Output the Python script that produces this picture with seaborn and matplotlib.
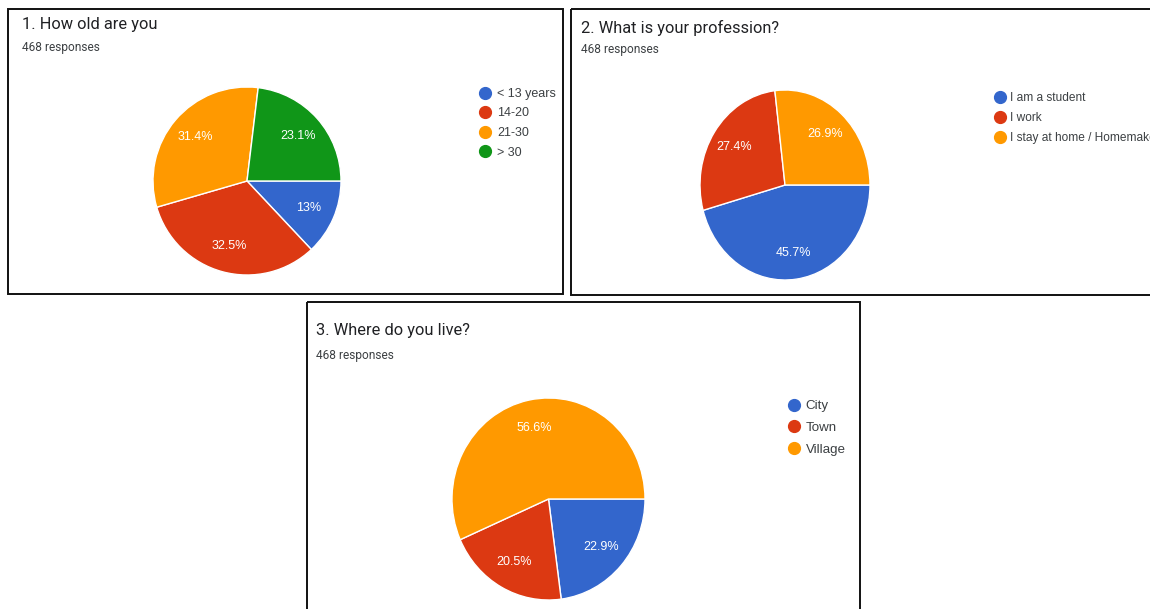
import matplotlib
matplotlib.use("Agg")
import matplotlib.pyplot as plt
from matplotlib.patches import Rectangle
from matplotlib.lines import Line2D
import seaborn as sns

sns.set_theme(style="white")
plt.rcParams["font.family"] = ["Liberation Sans", "DejaVu Sans"]

# Survey answers (percent of 468 responses)
age_labels = ["< 13 years", "14-20", "21-30", "> 30"]
age_values = [13.0, 32.5, 31.4, 23.1]

job_labels = ["I am a student", "I work", "I stay at home / Homemaker"]
job_values = [45.7, 27.4, 26.9]

home_labels = ["City", "Town", "Village"]
home_values = [22.9, 20.5, 56.6]

titles = ["1. How old are you", "2. What is your profession?", "3. Where do you live?"]
subtitle = "468 responses"

google = ["#3366CC", "#DC3912", "#FF9900", "#109618"]
sns.set_palette(google)

W, H = 1150, 609
fig = plt.figure(figsize=(W / 100, H / 100), dpi=100)
fig.patch.set_facecolor("white")

# full-figure canvas in pixel units for card frames and headings
bg = fig.add_axes([0, 0, 1, 1])
bg.set_xlim(0, W)
bg.set_ylim(H, 0)
bg.axis("off")

cards = [
    dict(box=(8, 9, 555, 285), title_xy=(22, 24), sub_xy=(22, 47),
         pie=(247, 181, 94, 94), legend_xy=(479, 88), legend_fs=9.0, spacing=0.6,
         pad=0.44, labels=age_labels, values=age_values),
    dict(box=(571, 9, 600, 286), title_xy=(581, 28), sub_xy=(581, 50),
         pie=(785, 185, 85, 95), legend_xy=(994, 92), legend_fs=8.6, spacing=0.66,
         pad=0.33, labels=job_labels, values=job_values),
    dict(box=(307, 302, 553, 330), title_xy=(316, 331), sub_xy=(316, 356),
         pie=(548.5, 499, 96.5, 101), legend_xy=(787, 400), legend_fs=9.6, spacing=0.7,
         pad=0.4, labels=home_labels, values=home_values),
]


def pct_text(p):
    s = f"{p:.1f}"
    return (s[:-2] if s.endswith(".0") else s) + "%"


for i, c in enumerate(cards):
    x0, y0, w, h = c["box"]
    bg.add_patch(Rectangle((x0, y0), w, h, fill=False, edgecolor="#111111", lw=1.4))
    bg.text(*c["title_xy"], titles[i], fontsize=11.8, color="#202124",
            family=["Roboto", "DejaVu Sans"], va="center", ha="left")
    bg.text(*c["sub_xy"], subtitle, fontsize=8.6, color="#3c4043",
            family=["Roboto", "DejaVu Sans"], va="center", ha="left")

    cx, cy, rx, ry = c["pie"]
    ax = fig.add_axes([(cx - rx) / W, 1 - (cy + ry) / H, 2 * rx / W, 2 * ry / H])
    n = len(c["values"])
    wedges, _, autotexts = ax.pie(
        c["values"], colors=google[:n], startangle=0, counterclock=False,
        autopct=pct_text, pctdistance=0.72, radius=1,
        wedgeprops=dict(edgecolor="white", linewidth=1.0),
        textprops=dict(color="white", fontsize=9.0),
    )
    ax.set_aspect("auto")
    ax.set_xlim(-1, 1)
    ax.set_ylim(-1, 1)
    ax.axis("off")

    handles = [Line2D([], [], marker="o", linestyle="none", markersize=8.5,
                      markerfacecolor=col, markeredgecolor=col) for col in google[:n]]
    lx, ly = c["legend_xy"]
    fig.legend(handles, c["labels"], loc="upper left",
               bbox_to_anchor=(lx / W, 1 - ly / H), bbox_transform=fig.transFigure,
               frameon=False, fontsize=c["legend_fs"], handletextpad=c["pad"],
               labelspacing=c["spacing"], borderpad=0, borderaxespad=0,
               handlelength=1.0, labelcolor="#3c4043")

fig.savefig("out.png", dpi=100, facecolor="white")
